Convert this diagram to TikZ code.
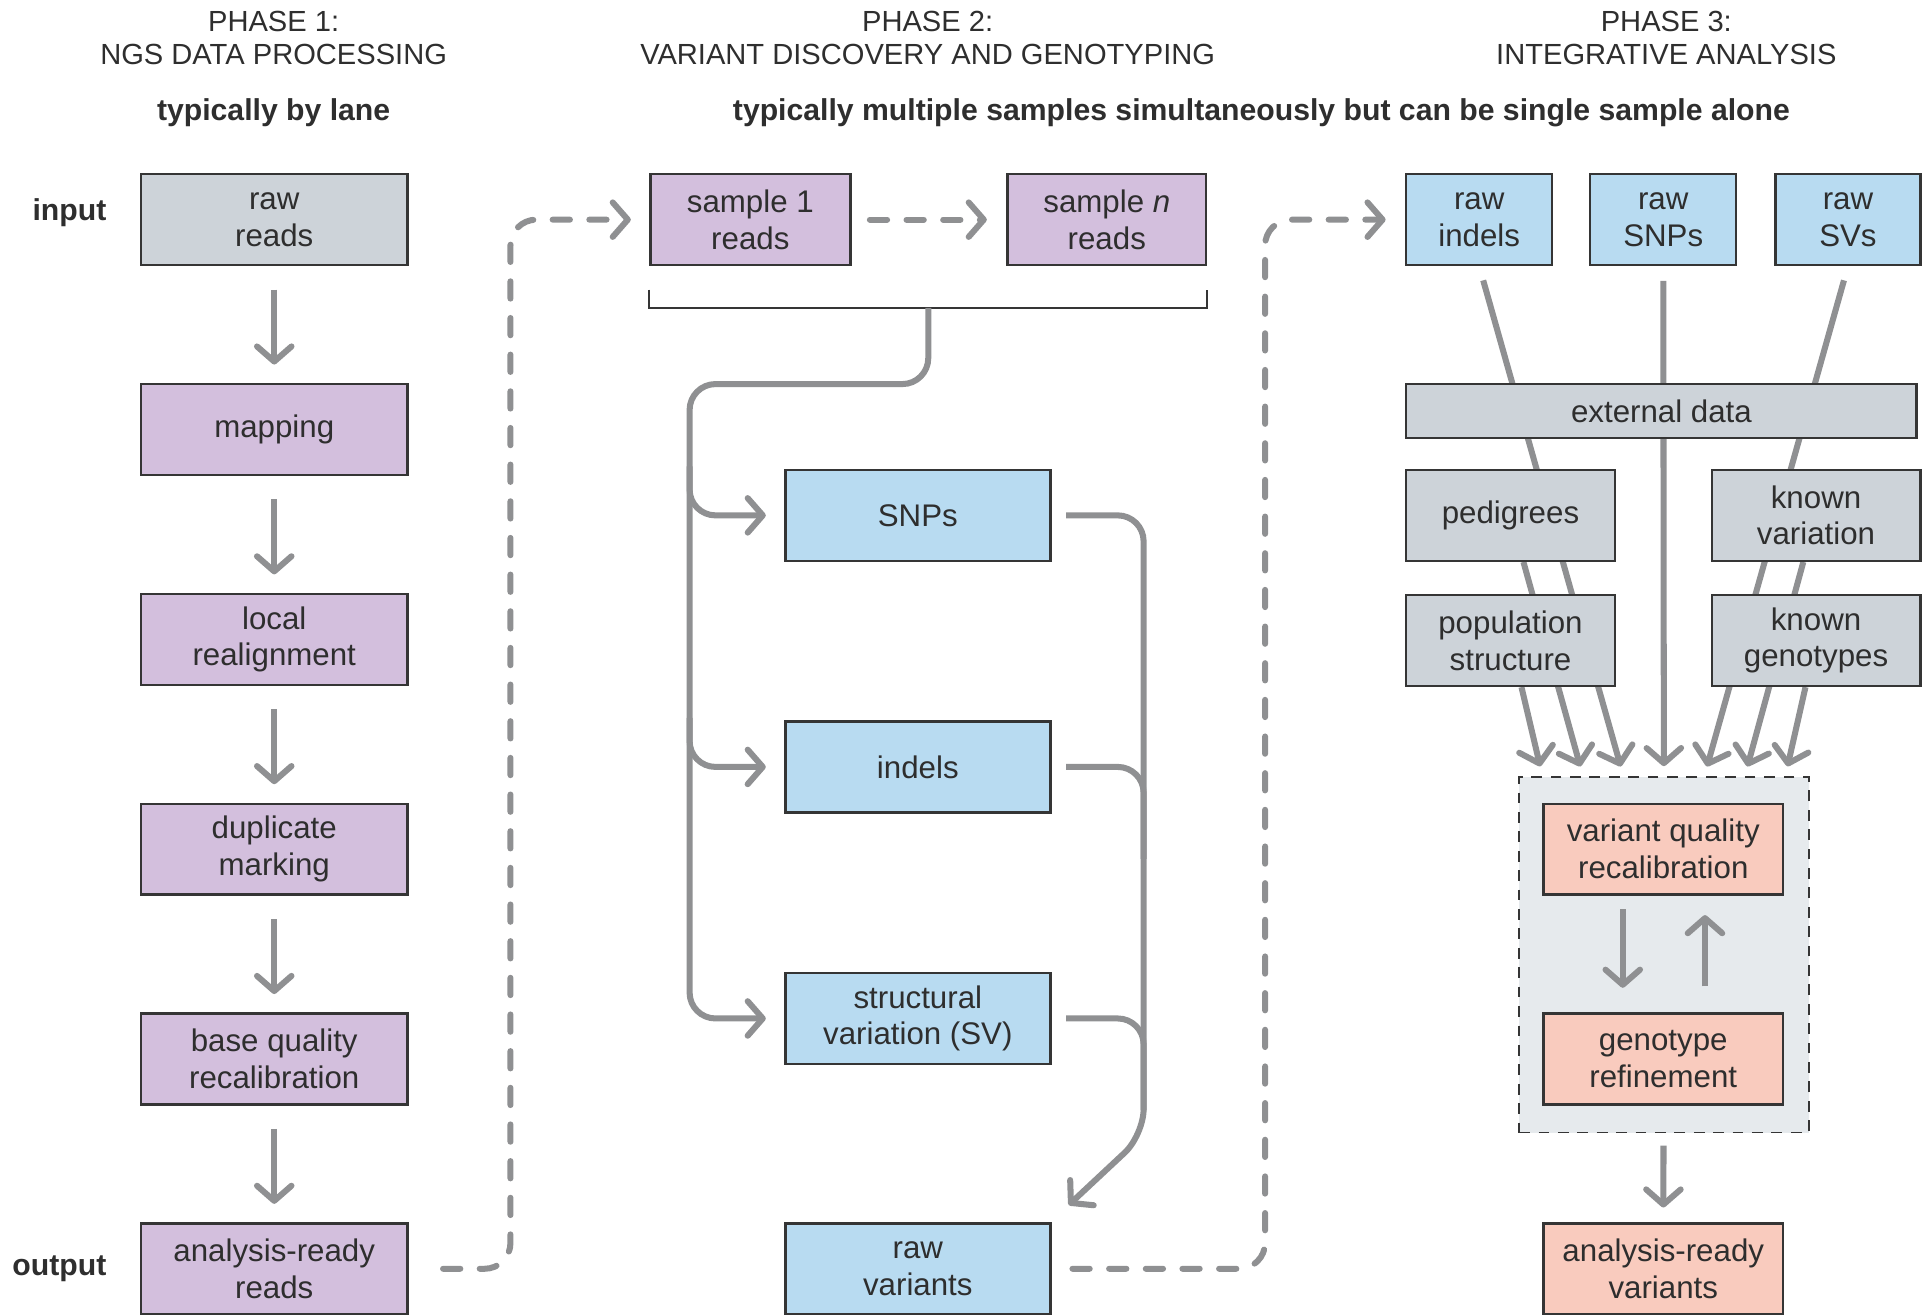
\documentclass[tikz,border=0pt]{standalone}
\usepackage{fontspec}
\setmainfont{Liberation Sans}
\usetikzlibrary{arrows.meta,calc,positioning,backgrounds}

\definecolor{boxgray}{HTML}{CDD3D9}
\definecolor{boxpurple}{HTML}{D3BFDD}
\definecolor{boxblue}{HTML}{B8DBF1}
\definecolor{boxsalmon}{HTML}{F9CBBE}
\definecolor{loopfill}{HTML}{E6EAED}
\definecolor{flowgray}{HTML}{8F9092}
\definecolor{edge}{HTML}{353535}
\definecolor{txt}{HTML}{2E2E2E}

\tikzset{
  stage/.style={draw=edge, line width=1.1pt, text=txt, align=center, inner sep=0pt,
    minimum height=14.8mm, font=\fontsize{14.5}{17}\selectfont},
  flowline/.style={draw=flowgray, line width=2.8pt},
  flow/.style={flowline, -{Straight Barb[round,length=7pt,width=16pt]}},
  dflow/.style={flow, line cap=round, dash pattern=on 8pt off 9pt},
  bracket/.style={draw=edge, line width=1pt},
  head/.style={text=txt, align=center, font=\fontsize{13.5}{15.5}\selectfont},
  note/.style={text=txt, font=\fontsize{14}{16}\selectfont\bfseries}
}

\begin{document}
\begin{tikzpicture}[x=0.2mm, y=-0.2mm]
  \useasboundingbox (0,0) rectangle (1568,1072);

  % Headings
  \node[head] at (223,31) {PHASE 1:\\NGS DATA PROCESSING};
  \node[head] at (756,31) {PHASE 2:\\VARIANT DISCOVERY AND GENOTYPING};
  \node[head] at (1358,31) {PHASE 3:\\INTEGRATIVE ANALYSIS};
  \node[note] at (223,92) {typically by lane};
  \node[note] at (1028,92) {typically multiple samples simultaneously but can be single sample alone};

  % Phase 1
  \node[stage, fill=boxgray, minimum width=43.4mm] (raw) at (223.5,179) {raw\\reads};
  \node[stage, fill=boxpurple, minimum width=43.4mm] (mapping) at (223.5,350) {mapping};
  \node[stage, fill=boxpurple, minimum width=43.4mm] (realign) at (223.5,521) {local\\realignment};
  \node[stage, fill=boxpurple, minimum width=43.4mm] (dedup) at (223.5,692) {duplicate\\marking};
  \node[stage, fill=boxpurple, minimum width=43.4mm] (bqsr) at (223.5,863) {base quality\\recalibration};
  \node[stage, fill=boxpurple, minimum width=43.4mm] (ready) at (223.5,1034) {analysis-ready\\reads};
  \node[note, inner sep=0pt, left=5.4mm of raw, yshift=3pt] (inlbl) {input};
  \node[note, inner sep=0pt, left=5.4mm of ready] (outlbl) {output};

  \foreach \a/\b in {raw/mapping, mapping/realign, realign/dedup, dedup/bqsr, bqsr/ready}
    \draw[flow, shorten <=10.8pt, shorten >=8.5pt] (\a) -- (\b);

  % Phase 2
  \node[stage, fill=boxpurple, minimum width=32.6mm] (s1) at (611.5,179) {sample 1\\reads};
  \node[stage, fill=boxpurple, minimum width=32.4mm] (sn) at (902,179) {sample \textit{n}\\reads};
  \node[stage, fill=boxblue, minimum width=43.2mm] (snps) at (748,420) {SNPs};
  \node[stage, fill=boxblue, minimum width=43.2mm] (indels) at (748,625) {indels};
  \node[stage, fill=boxblue, minimum width=43.2mm] (sv) at (748,830) {structural\\variation (SV)};
  \node[stage, fill=boxblue, minimum width=43.2mm] (rawvar) at (748,1034) {raw\\variants};

  \draw[dflow, shorten <=8.5pt, shorten >=9pt] (s1) -- (sn);
  \coordinate (brk) at ($(s1.south west)!0.5!(sn.south east)+(0,34)$);
  \draw[bracket] ($(s1.south west)+(0,19)$) |- (brk) -| ($(sn.south east)+(0,19)$);

  % split into the three callers
  \coordinate (split) at (562,313);
  \coordinate (b1) at (562,380);
  \coordinate (b2) at (562,585);
  \draw[flow, rounded corners=12pt, shorten >=8.5pt] (brk) |- (split) |- (sv.west);
  \draw[flow, rounded corners=12pt, shorten >=8.5pt] (b1) |- (snps.west);
  \draw[flow, rounded corners=12pt, shorten >=8.5pt] (b2) |- (indels.west);

  % merge into raw variants
  \coordinate (m1) at (932,700);
  \coordinate (m2) at (932,905);
  \coordinate (m3) at (932,925);
  \coordinate (rvtip) at ($(rawvar.north east)+(14,-14)$);
  \draw[flowline, rounded corners=12pt, shorten <=6.8pt] (indels.east) -| (m1);
  \draw[flowline, rounded corners=12pt, shorten <=6.8pt] (sv.east) -| (m2);
  \draw[flow, rounded corners=12pt, shorten <=6.8pt] (snps.east) -| (m3) -- (rvtip);

  % Phase 3
  \node[stage, fill=boxblue, minimum width=23.8mm] (rindels) at (1205.5,179) {raw\\indels};
  \node[stage, fill=boxblue, minimum width=23.8mm] (rsnps) at (1355.5,179) {raw\\SNPs};
  \node[stage, fill=boxblue, minimum width=23.6mm] (rsvs) at (1506,179) {raw\\SVs};
  \node[stage, fill=boxgray, minimum width=83.2mm, minimum height=8.8mm] (ext) at (1354,335) {external data};
  \node[stage, fill=boxgray, minimum width=34mm] (ped) at (1231,420) {pedigrees};
  \node[stage, fill=boxgray, minimum width=34mm] (knownvar) at (1480,420) {known\\variation};
  \node[stage, fill=boxgray, minimum width=34mm] (pop) at (1231,522) {population\\structure};
  \node[stage, fill=boxgray, minimum width=34mm] (knowngeno) at (1480,522) {known\\genotypes};

  \node[draw=edge, fill=loopfill, line width=0.8pt, dash pattern=on 5pt off 4pt,
    minimum width=47.2mm, minimum height=58mm] (loop) at (1356,778) {};
  \node[stage, fill=boxsalmon, minimum width=39mm] (vqsr) at (1355.5,692) {variant quality\\recalibration};
  \node[stage, fill=boxsalmon, minimum width=39mm] (refine) at (1355.5,863) {genotype\\refinement};
  \node[stage, fill=boxsalmon, minimum width=39mm] (final) at (1355.5,1034) {analysis-ready\\variants};

  \begin{scope}[on background layer]
    \foreach \s/\i in {pop/-3, ped/-2, knownvar/2, knowngeno/3}
      \draw[flow, shorten >=4.5pt] (\s) -- ($(loop.north)+(\i*33,0)$);
    \foreach \s/\i in {rindels/-1, rsnps/0, rsvs/1}
      \draw[flow, shorten <=6.8pt, shorten >=4.5pt] (\s.south) -- ($(loop.north)+(\i*33,0)$);
  \end{scope}

  \draw[flow, shorten <=6.3pt, shorten >=11.4pt] ($(vqsr.south)+(-33,0)$) -- ($(refine.north)+(-33,0)$);
  \draw[flow, shorten <=12pt, shorten >=9pt] ($(refine.north)+(34,0)$) -- ($(vqsr.south)+(34,0)$);
  \draw[flow, shorten <=5.7pt, shorten >=6.8pt] (loop) -- (final);

  % Phase 1 -> 2 -> 3
  \coordinate (d1) at (416,179);
  \coordinate (d2) at (1031,179);
  \draw[dflow, rounded corners=12pt, shorten <=16pt, shorten >=8.5pt] (ready.east) -| (d1) -- (s1.west);
  \draw[dflow, rounded corners=12pt, shorten <=9.7pt, shorten >=9pt] (rawvar.east) -| (d2) -- (rindels.west);

\end{tikzpicture}
\end{document}
